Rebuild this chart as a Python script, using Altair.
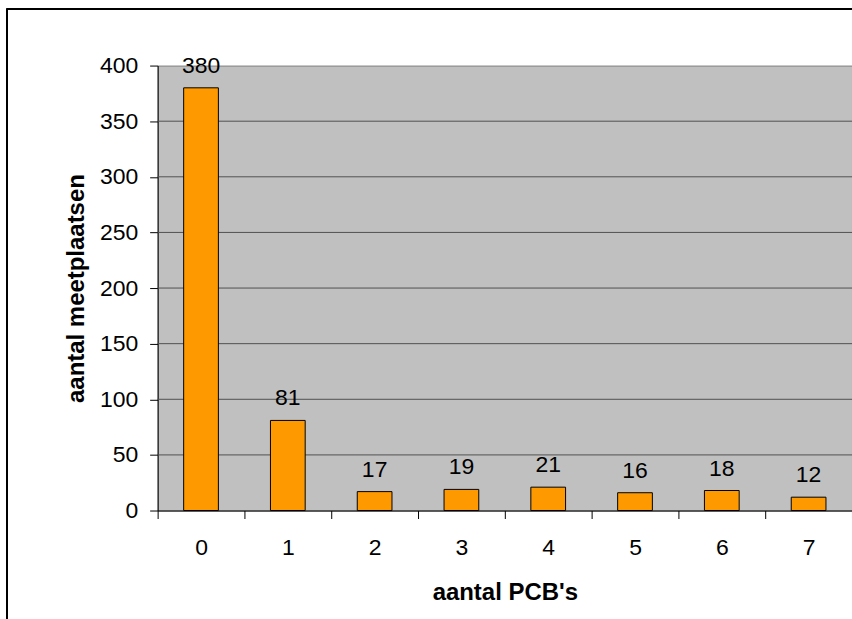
import altair as alt
import pandas as pd

# Number of PCB's found per measuring site, and how many sites had that count
categories = ["0", "1", "2", "3", "4", "5", "6", "7"]
counts = [380, 81, 17, 19, 21, 16, 18, 12]
grid_values = [50, 100, 150, 200, 250, 300, 350]

df = pd.DataFrame({"pcb": categories, "n": counts})
grid_df = pd.DataFrame({"g": grid_values})

W, H = 696, 446
FONT = "Liberation Sans"
FS = 23
TFS = 24

x_axis = alt.Axis(
    title="aantal PCB's",
    labelAngle=0,
    tickBand="extent",
    tickSize=8,
    tickColor="black",
    domainColor="black",
    labelFontSize=FS,
    labelFont=FONT,
    labelColor="black",
    labelPadding=18,
    titleFont=FONT,
    titleFontSize=TFS,
    titleFontWeight="bold",
    titleColor="black",
    titleBaseline="alphabetic",
    titleY=89,
    grid=False,
)

y_scale = alt.Scale(domain=[0, 400], nice=False)

y_axis = alt.Axis(
    title="aantal meetplaatsen",
    values=[0, 50, 100, 150, 200, 250, 300, 350, 400],
    tickSize=8,
    tickColor="black",
    domainColor="black",
    labelFontSize=FS,
    labelFont=FONT,
    labelColor="black",
    labelPadding=12,
    titleFont=FONT,
    titleFontSize=TFS,
    titleFontWeight="bold",
    titleColor="black",
    titleBaseline="alphabetic",
    titleX=-74,
    grid=False,
)

x_enc = alt.X(
    "pcb:N",
    sort=categories,
    scale=alt.Scale(paddingInner=0, paddingOuter=0),
    axis=x_axis,
)

# horizontal gridlines behind the bars
grid = alt.Chart(grid_df).mark_rule(color="#505050", strokeWidth=1).encode(
    y=alt.Y("g:Q", scale=y_scale, axis=y_axis)
)

bars = alt.Chart(df).mark_bar(
    color="#FF9900",
    stroke="black",
    strokeWidth=1,
    width=alt.RelativeBandSize(0.4),
).encode(x=x_enc, y=alt.Y("n:Q", scale=y_scale, axis=y_axis))

labels = alt.Chart(df).mark_text(
    baseline="alphabetic",
    dy=-15,
    fontSize=FS,
    font=FONT,
    color="black",
).encode(
    x=alt.X("pcb:N", sort=categories, axis=x_axis),
    y=alt.Y("n:Q", scale=y_scale, axis=y_axis),
    text="n:Q",
)

# outer chart frame (left and top edges)
frame_left = alt.Chart(df).mark_rule(color="black", strokeWidth=1.5).encode(
    x=alt.value(-151), y=alt.value(-57), y2=alt.value(H + 120)
)
frame_top = alt.Chart(df).mark_rule(color="black", strokeWidth=1.5).encode(
    x=alt.value(-151), x2=alt.value(W + 20), y=alt.value(-57)
)

chart = (
    alt.layer(grid, bars, labels, frame_left, frame_top)
    .properties(
        width=W,
        height=H,
        autosize=alt.AutoSizeParams(type="none"),
        padding={"left": 158, "top": 65, "right": 0, "bottom": 108},
        background="white",
    )
    .configure_view(fill="#C0C0C0", stroke="#808080", strokeWidth=1)
)

chart.save("out.html", embed_options={"renderer": "svg", "actions": False})
